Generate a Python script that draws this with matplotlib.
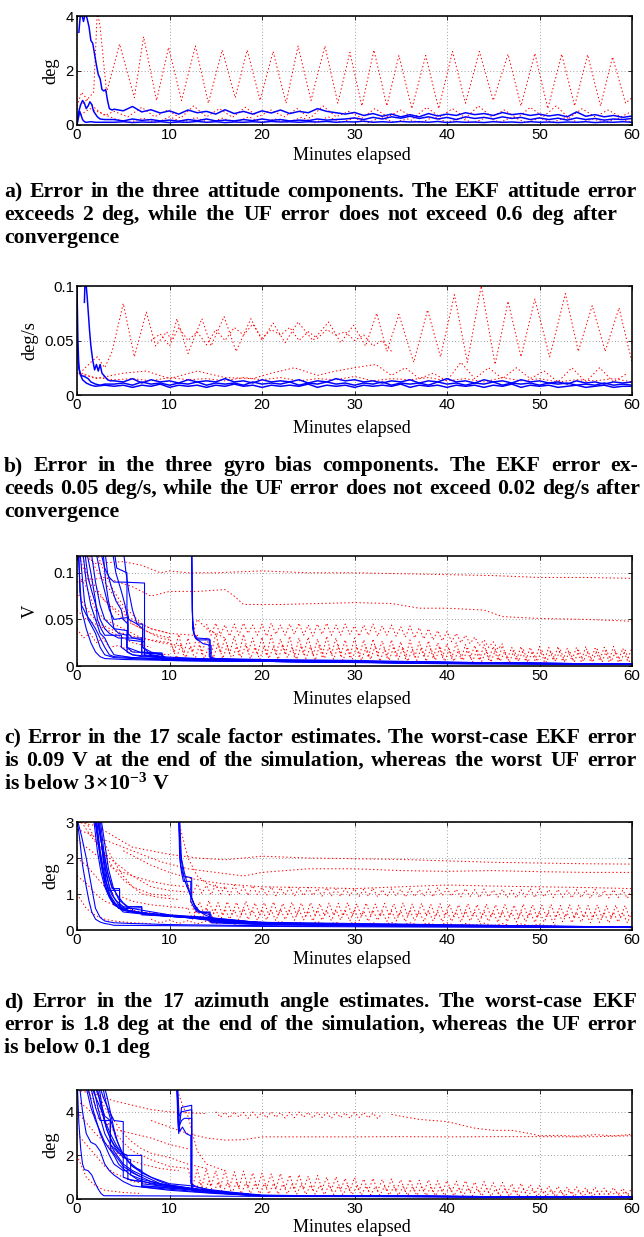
import numpy as np
import matplotlib
matplotlib.use("Agg")
import matplotlib.pyplot as plt

# ======================= DATA =======================
XTICKS = [0, 10, 20, 30, 40, 50, 60]

# ---- panel a : attitude error (deg) ----
a_blue1_early_t = [0.2,0.35,0.5,0.7,0.9,1.1,1.3,1.5,1.7,1.9,2.1,2.3,2.5,2.7,2.9,3.1,3.3,3.5,3.8]
a_blue1_early_v = [3.4,4.0,4.1,3.8,4.1,3.9,3.6,3.1,3.0,2.6,2.2,1.85,1.7,1.3,1.25,1.3,0.9,0.6,0.55]
a_blue1_late_v = [0.58,0.52,0.68,0.48,0.56,0.44,0.52,0.40,0.55,0.45,0.50,0.40,0.56,0.42,0.50,0.40,
                  0.52,0.44,0.55,0.42,0.50,0.45,0.60,0.50,0.45,0.40,0.46,0.35,0.42,0.32,0.40,0.30,
                  0.38,0.30,0.42,0.33,0.40,0.35,0.45,0.38,0.42,0.35,0.46,0.38,0.42,0.35,0.40,0.33,
                  0.38,0.30,0.48,0.32,0.38,0.30,0.35,0.28,0.33]
a_blue2_early_t = [0,0.2,0.4,0.6,0.8,1.0,1.2,1.4,1.6,1.8,2.0,2.2,2.5,3.0]
a_blue2_early_v = [0.1,0.5,0.75,0.9,0.8,0.6,0.7,0.85,0.75,0.5,0.4,0.3,0.22,0.2]
a_blue2_late_v = [0.2,0.15,0.22,0.17,0.2,0.15,0.18,0.14,0.2,0.16,0.22,0.15,0.18,0.15,0.2,0.16,
                  0.22,0.17,0.2,0.15,0.18,0.16,0.22,0.18,0.2,0.22,0.26,0.2,0.28,0.22,0.3,0.25,
                  0.32,0.24,0.3,0.22,0.28,0.2,0.3,0.24,0.28,0.22,0.3,0.24,0.28,0.2,0.26,0.2,
                  0.25,0.18,0.26,0.2,0.24,0.18,0.22,0.2,0.24]
a_blue3_early_t = [0,0.15,0.3,0.45,0.6,0.8,1.0,1.5,2.0,3.0]
a_blue3_early_v = [0.0,0.25,0.5,0.35,0.2,0.12,0.1,0.12,0.1,0.1]
a_blue3_late_v = [0.1,0.12,0.09,0.11,0.1,0.12,0.09,0.11,0.1,0.13,0.1,0.12,0.09,0.11,0.1,0.12,
                  0.1,0.13,0.11,0.12,0.1,0.12,0.11,0.13,0.1,0.12,0.11,0.14,0.1,0.12,0.1,0.13,
                  0.11,0.12,0.1,0.13,0.09,0.12,0.1,0.11,0.09,0.12,0.1,0.11,0.09,0.12,0.1,0.11,
                  0.09,0.11,0.1,0.12,0.09,0.11,0.1,0.12,0.1]
a_red1_t = [0.0,1.0,1.8,2.2,2.5,3.2,4.6,6.2,7.2,8.6,9.9,11.3,12.8,14.2,15.7,17.1,18.4,19.8,21.2,22.6,
            23.9,25.3,26.8,28.2,29.5,30.8,32.1,33.5,34.8,36.2,37.7,39.1,40.6,42.0,43.5,45.0,46.6,48.0,
            49.5,50.9,52.4,53.8,55.2,56.6,57.9,59.3,60.0]
a_red1_v = [0.6,0.9,1.2,4.2,3.6,1.2,2.97,1.0,3.24,0.9,2.85,0.9,2.9,0.8,2.75,1.0,2.75,0.9,2.7,0.8,
            2.9,0.9,2.9,0.8,2.67,0.7,2.75,0.7,2.55,0.6,2.55,0.6,2.7,0.8,2.7,0.9,2.6,0.7,
            2.63,0.6,2.6,0.7,2.58,0.7,2.5,0.8,1.0]
a_red2_t = [0,0.5,1.2,2.0,3.0,4.0,5.5,7.0,8.4,9.8,11.2,12.6,14.0,15.4,16.8,18.2,19.6,21.0,22.4,23.8,
            25.2,26.6,28.0,29.4,30.8,32.2,33.6,35.0,36.4,37.8,39.2,40.6,42.0,43.4,44.8,46.2,47.6,49.0,
            50.4,51.8,53.2,54.6,56.0,57.4,58.8,60.0]
a_red2_v = [0.7,1.2,0.9,0.6,0.35,0.5,0.3,0.65,0.3,0.55,0.25,0.7,0.3,0.6,0.28,0.65,0.3,0.55,0.3,0.6,
            0.25,0.7,0.3,0.5,0.25,0.6,0.3,0.55,0.25,0.65,0.3,0.6,0.25,0.7,0.3,0.55,0.25,0.65,
            0.3,0.7,0.25,0.6,0.3,0.55,0.3,0.5]
a_red3_v = [0.3,0.6,0.4,0.2,0.1,0.25,0.08,0.3,0.1,0.28,0.08,0.25,0.1,0.3,0.08,0.22,0.1,0.28,0.08,0.3,
            0.1,0.25,0.08,0.28,0.1,0.22,0.08,0.3,0.1,0.25,0.08,0.28,0.1,0.3,0.08,0.25,0.1,0.28,
            0.08,0.22,0.1,0.25,0.1]

# ---- panel b : gyro bias error (deg/s) ----
b_blue1_early_t = [0.8,0.85,1.0,1.1,1.2,1.35,1.5,1.7,1.9,2.1,2.3,2.5,2.7,3.0,3.3,3.6]
b_blue1_early_v = [0.085,0.1,0.1,0.09,0.078,0.06,0.045,0.032,0.023,0.028,0.022,0.028,0.02,0.017,0.014,0.013]
b_blue1_late_m = [13,12,15,11,14,12,13,11,14,12,13,12,15,12,13,11,14,12,13,12,14,11,13,12,15,13,14,12,
                  13,11,13,12,14,11,13,12,15,12,13,11,14,12,13,11,14,12,13,11,12,10,13,11,12,10,12,11,12]
b_blue2_early_t = [0,0.1,0.2,0.4,0.8,1.2,1.5,2,2.5,3]
b_blue2_early_v = [0.1,0.05,0.025,0.018,0.017,0.015,0.012,0.01,0.009,0.01]
b_blue2_late_m = [10,11,9,12,10,11,9,11,10,12,9,11,10,11,9,12,10,11,10,12,9,11,10,12,10,11,9,11,
                  10,12,9,11,10,11,9,12,10,11,9,11,10,12,9,11,10,11,9,11,10,11,9,10,9,11,9,10,9]
b_blue3_early_t = [0,0.15,0.3,0.6,1.0,1.5,2,3]
b_blue3_early_v = [0.05,0.03,0.02,0.014,0.011,0.009,0.008,0.009]
b_blue3_late_m = [8,9,7,9,8,10,7,9,8,9,7,9,8,10,8,9,7,9,8,9,8,10,7,9,8,9,7,9,
                  8,9,8,10,7,9,8,9,7,9,8,9,7,9,8,10,7,9,8,9,7,8,9,7,8,9,7,8,8]
b_red1_t = [0.3,1.5,2.2,3.0,3.8,5.0,6.2,7.5,8.5,9.7,10.2,10.8,12.0,13.5,14.5,15.9,17.2,18.8,20.0,21.2,
            22.5,23.9,25.5,27.2,28.5,29.9,31.2,32.4,33.5,34.8,36.4,37.9,39.3,40.8,42.2,43.7,45.2,46.6,
            48.0,49.5,51.1,52.8,54.2,55.7,57.1,58.6,60.0]
b_red1_v = [0.02,0.03,0.035,0.025,0.04,0.084,0.035,0.076,0.045,0.058,0.05,0.07,0.038,0.07,0.045,0.072,
            0.04,0.07,0.05,0.066,0.048,0.067,0.05,0.067,0.048,0.064,0.045,0.075,0.04,0.074,0.03,0.078,
            0.035,0.092,0.03,0.1,0.028,0.086,0.035,0.088,0.035,0.093,0.04,0.082,0.04,0.08,0.03]
b_red2_t = [8,9,10,11,12,13,14,15,16,17,18,19,20,21,22,23,24,25,26,27,28,29,30,31,32,33,34]
b_red2_v = [0.05,0.056,0.045,0.062,0.05,0.058,0.046,0.06,0.05,0.062,0.055,0.065,0.052,0.06,0.055,0.062,
            0.05,0.058,0.052,0.06,0.055,0.058,0.05,0.055,0.045,0.05,0.04]
b_red3_t = [0.5,2,5,7.5,10,13,16,19,21,23.5,26,28,30,32.3,34,35.5,37,38.5,40,41.5,43,44.5,46,47.5,
            49,50.5,52,53.5,55,56.5,58,59.5]
b_red3_v = [0.02,0.015,0.02,0.022,0.015,0.022,0.016,0.015,0.02,0.025,0.018,0.022,0.025,0.028,0.018,0.025,
            0.015,0.02,0.013,0.03,0.015,0.025,0.015,0.025,0.015,0.022,0.012,0.025,0.012,0.025,0.012,0.02]
b_red4_v = [0.02,0.016,0.014,0.015,0.013,0.016,0.014,0.015,0.013,0.016,0.014,0.016,0.013,0.015,0.014,0.017,
            0.013,0.015,0.014,0.016,0.013,0.015,0.012,0.016,0.013,0.015,0.012,0.014,0.013,0.015,0.012]

# ---- panel c : 17 scale factor errors (V, values in mV) ----
c_blue_t = [
    [0.1,0.5,1,1.5,2,2.5,3,5,10,20,30,40,60],
    [0.3,0.8,1.2,2,2.5,3,4,8,20,40,60],
    [0.6,1.0,1.5,2.0,2.5,3.0,3.5,4,6,10,30,60],
    [1.0,1.5,2.0,2.2,2.6,3,4.8,4.8,5.5,6,9,20,40,60],
    [1.5,2.0,2.5,3.0,3.5,4.0,5.4,5.4,6.5,7.0,9.2,9.2,15,30,45,60],
    [2.0,2.5,3.0,3.5,4,5.5,5.5,7.0,7.0,8,9.3,9.3,20,43,60],
    [2.5,3.0,3.5,4.0,5.0,7.3,7.3,8,9.5,9.5,20,40,60],
    [3.0,3.3,3.7,4.2,4.8,5.0,5.5,5.5,7.3,7.3,9,15,30,60],
    [3.8,4.2,4.8,5.2,5.5,5.5,6,7.0,7.0,9.3,9.3,25,60],
    [5.0,5.3,5.6,6,6.5,7.1,7.1,8,9.2,9.2,20,40,60],
    [0.2,0.3,0.5,1.0,1.5,2,2.5,3,3.5,4,8,20,40,60],
    [0.8,1.2,1.6,2.2,2.5,3,3.5,4.5,5.4,5.4,6,7,9.3,9.3,30,60],
    [2.8,3.1,3.4,3.8,4.0,4.5,5.4,5.4,6,9.2,9.2,20,43,60],
    [12.4,12.45,12.6,13,14.3,14.3,15,20,30,40,43,60],
    [12.4,12.5,12.7,13,14.4,14.4,20,40,60],
    [12.4,12.5,12.8,13.6,14.5,14.5,25,60],
    [4.0,4.3,5.4,5.4,5.6,6.5,7.1,7.1,8,9,9.2,30,60],
]
c_blue_m = [
    [125,60,40,25,15,10,8,7,6,5,4,3,2],
    [125,70,50,35,20,12,9,7,5,3,2],
    [125,90,65,50,35,30,20,12,9,7,4,2],
    [125,100,70,50,40,33,33,20,15,12,9,6,4,2],
    [125,90,65,50,45,40,38,20,16,14,13,8,7,5,3,2],
    [125,100,80,60,50,52,30,30,12,10,10,7,5,2,2],
    [125,105,95,90,90,89,15,12,10,6,5,3,2],
    [125,100,85,70,60,50,45,28,26,12,10,7,5,2],
    [125,100,80,65,50,35,30,28,15,12,7,5,2],
    [125,100,80,60,45,40,20,15,12,6,5,3,2],
    [125,80,65,55,48,40,30,20,12,10,8,6,3,2],
    [125,95,80,60,50,40,35,30,30,15,12,10,9,6,4,2],
    [125,90,70,50,40,35,33,20,15,14,7,6,3,2],
    [125,60,35,30,29,10,8,7,6,4,3,2],
    [125,50,32,28,28,8,6,4,2],
    [125,40,30,24,22,7,5,2],
    [125,105,100,60,50,45,45,20,12,10,7,4,2],
]
c_red_t = [
    [0,2,5,7,9,10,12,15,20,25,30,35,40,45,50,55,60],
    [0,3,6,8,10,13,16,17,18,22,26,30,34,37,40,44,46,50,55,60],
    [0,1,2,3,4,6,8,10],
    [0,1,2,3,5,7,9,11],
    [0,0.5,1.5,2.5,4,6,8,10],
    [0.5,1,2,3,4,5,7,9,10],
    [1,2,3,4,5,6,8,10],
    [0,1,2,3,4,5,6,8],
    [2,3,4,5,6,7,8,10,12.5,13,14,15,16],
    [0,0.7,1.4,2.1,2.8,3.5,4.5,6,8,10],
]
c_red_m = [
    [125,110,112,108,100,102,100,100,102,100,100,99,98,97,95,95,94],
    [90,95,85,75,80,80,82,75,66,66,67,68,67,62,62,60,53,51,50,48],
    [125,95,80,70,62,50,40,35],
    [100,85,60,50,40,30,25,22],
    [80,70,55,45,38,32,28,25],
    [125,100,85,70,60,50,40,30,28],
    [125,105,90,75,60,45,35,30],
    [60,50,45,40,35,30,25,20],
    [125,100,80,65,55,45,40,35,33,50,40,35,30],
    [40,30,35,25,30,20,22,15,14,12],
]
c_band1_m = [32,14,34,12,30,15,33,13,31,12,35,14,30,13,32,12,34,15,30,12,
             31,11,33,13,29,12,32,10,30,12,31,11,29,10,32,12,30,11,28,10,
             30,10,28,9,29,11,27,9,28,10,26,8,28,9,26,10,27,8,25,9,
             24,8,25,7,23,8,22,6,23,7,21,6,22,7,20,6,21,5,20,6,
             21,5,20,6,21,5,19,6,20,5,21,5,19,6,20,5,21,5,19,6,
             20]
c_band2_m = [22,8,24,9,21,7,23,8,20,9,24,8,22,7,21,9,23,8,20,7,
             22,8,21,7,23,9,20,7,22,8,21,6,23,8,20,7,22,6,19,7,
             21,6,20,7,22,5,19,6,21,7,20,5,18,6,20,5,19,6,21,5,
             18,5,17,6,19,4,18,5,17,4,18,5,16,4,17,5,18,4,16,5,
             17,4,16,5,18,4,16,4,17,5,16,4,18,4,17,5,16,4,17,4]
c_band3_m = [45,33,46,34,44,32,45,33,46,35,44,33,45,32,46,34,44,33,45,34,
             46,33,44,32,45,34,46,33,44,33,45,34,43,32,44,33,45,32,43,33,
             44,32,42,31,43,30,41,29,40,28,38,27,37,26,35,25,33,24,31,22,
             28,20,26,18,24]

# ---- panel d : 17 azimuth angle errors (deg, values in 0.01 deg) ----
d_blue_t = [
    [0,0.3,0.6,1.0,1.3,1.6,2.0,2.5,3,3.5,4,10,20,40,60],
    [0,0.5,1,1.5,2,2.5,3,4,6,10,20,40,60],
    [1.8,2.2,2.6,3,3.5,4,5,7,10,15,20,30,45,60],
    [2.0,2.3,2.7,3.0,3.5,4.6,4.6,6,10,14,20,30,60],
    [2.1,2.5,3,3.5,4,4.5,5.5,7,7,10,15,20,40,60],
    [2.2,2.6,3,3.5,4,4.5,5,6,10,14,20,35,60],
    [2.3,2.7,3.2,3.7,4.3,5,6.0,6.0,10,15,25,60],
    [2.4,2.8,3.2,3.6,4,5,7,10,15,22,60],
    [1.9,2.3,2.7,3.2,3.8,4.4,5,8,12,16,25,60],
    [2.5,2.9,3.3,3.8,4.4,5,5.5,7.0,7.0,10,14,18,40,60],
    [2.0,2.5,3,3.5,4,5,6,9,13,17,30,60],
    [2.6,3.0,3.4,3.9,4.5,5.5,7,10,14,20,60],
    [2.2,2.5,3,3.4,3.8,4.6,4.6,5.5,8,12,18,60],
    [11.0,11.1,11.3,11.5,12.3,12.3,12.7,13,14.3,14.3,16,20,30,45,60],
    [11.0,11.2,11.5,12.4,12.4,12.8,13.2,14.4,14.4,20,60],
    [11.0,11.2,11.6,12.0,12.5,13,14.0,14.5,14.5,20,60],
    [11.1,11.3,11.6,12.2,12.7,13.3,14,15,18,30,60],
]
d_blue_c = [
    [310,250,180,120,80,50,30,22,18,16,13,12,10,8,7],
    [310,260,200,130,60,35,25,20,18,15,12,10,8],
    [310,220,160,120,90,70,55,45,38,30,20,15,10,8],
    [310,250,180,140,110,110,60,50,40,35,20,14,8],
    [310,220,150,100,80,60,60,62,42,38,30,18,10,7],
    [310,250,180,120,90,70,55,50,40,33,20,12,7],
    [310,230,150,100,80,65,60,50,38,28,15,7],
    [310,200,130,90,70,55,48,40,25,16,8],
    [310,240,170,110,80,65,50,42,35,22,14,7],
    [310,220,160,120,95,75,65,65,45,40,32,20,10,7],
    [310,200,130,95,75,60,50,40,33,20,13,8],
    [310,240,170,120,85,62,55,42,35,20,8],
    [310,260,200,150,115,115,70,55,45,36,22,8],
    [310,200,160,135,135,80,60,50,48,25,20,17,13,10,8],
    [310,180,150,145,90,60,50,50,22,16,8],
    [310,210,160,120,80,55,45,42,20,15,7],
    [310,190,140,100,70,50,40,30,20,12,8],
]
d_red_t = [
    [0,2,4,6,8,10,13,16,20,25,30,35,40,45,50,55,60],
    [0,3,6,9,12,15,18,20,25,30,35,40,45,50,55,60],
    [5,8,10,12,14,16,20,25,30,35,40,45,50,55,60],
    [0,1,2,3,4,6,8,10,12],
    [0.5,1.5,2.5,3.5,4.5,6,8,10,12],
    [1,2,3,4,5,6,8,10],
    [2,3,4,5,6,7,9,11],
    [0,1,2,3,4,6,8,10,12],
    [0,1,2,3,5,7,9,11],
    [0,0.5,1,2,3,4,6,8],
    [11,11.5,12,13,14,15,16],
]
d_red_c = [
    [300,290,260,230,220,210,200,195,205,200,198,196,192,188,186,184,183],
    [280,250,220,190,170,160,150,160,170,170,165,163,165,162,160,160],
    [220,180,160,145,135,128,120,118,115,120,125,122,120,118,115],
    [250,230,210,190,170,150,135,125,120],
    [300,260,230,200,180,150,120,110,105],
    [300,250,210,170,140,120,100,95],
    [300,240,190,150,120,100,90,85],
    [200,180,150,120,100,80,70,65,60],
    [150,130,100,80,60,50,45,40],
    [100,80,60,40,30,25,20,18],
    [300,250,200,150,130,120,115],
]
d_band1_c = [125,100,128,102,124,98,126,100,122,97,125,99,120,96,123,98,
             118,96,120,95,117,97,119,94,116,95,118,96,115,94,117,95,114,93,116,95,
             115,93,113,94,116,92,112,93,114,95,113,92,115,93,112,94,114,92,118,95,
             116,94,113,92,115,93,112,90,114,92,111,91,113,90,110,89,112,91,115,90,
             114,92,112,90,113,91,110,89,112,90,111,88,113,90,110,89,112,90,111,88,
             112]
d_band2_c = [80,45,78,42,82,46,76,40,79,44,77,42,80,45,75,41,
             76,42,78,40,74,43,77,41,75,39,76,42,73,40,75,41,74,39,76,40,
             73,38,75,41,72,39,74,40,73,37,75,39,72,38,74,40,71,37,73,39,
             72,37,70,36,73,38,71,36,72,37,70,35,71,37,69,35,72,36,70,34,
             69,36,71,34,68,35,70,33,69,35,68,33,70,34,67,33,69,34,68,32]
d_band3_c = [60,30,58,28,62,32,57,27,59,30,56,28,60,29,55,27,
             57,28,55,26,58,29,54,27,56,28,53,25,55,27,54,26,56,28,53,25,
             55,26,52,24,54,27,51,24,53,25,52,23,54,26,51,24,53,25,50,23,
             52,24,50,22,53,25,49,22,51,24,50,21,52,23,48,22,50,23,49,21,
             50,22,48,20,51,23,47,20,49,22,48,20,50,21,47,20,49,22,48,20,
             50]
d_band4_c = [30,20,28,18,26,17,25,18,24,16,25,17,23,16,24,15,22,16,23,15,21,14,22,15,20,14,
             21,13,20,14,19,13,20,12,18,13,19,12,18,11,17,12,16,11,15]

# ---- panel e : (deg, values in 0.01 deg) ----
e_blue_t = [
    [0.05,0.2,0.4,0.6,0.8,1.2,1.6,2.0,2.3,2.6,2.9,10,20,40,60],
    [0.3,0.6,1.0,1.5,2.0,2.5,3.0,3.5,4.0,5.0,6.0,8.0,10,15,20,60],
    [1.2,1.8,2.5,3.0,3.5,4.0,5.0,5.5,5.5,7.0,10,12,15,20,60],
    [1.5,2.0,2.5,3.6,3.6,4.5,5.0,6.0,7.0,7.0,10,12.5,15,20,60],
    [2.0,2.5,3.0,3.6,3.6,4.5,5.5,7.0,7.0,10,14,20,60],
    [2.5,2.9,3.3,4.0,5.0,5.0,6.0,7.0,7.0,9,10,12,16,20,60],
    [1.8,2.2,2.6,3.0,3.5,4.0,4.5,5.0,6.0,7.0,9.0,11,14,20,60],
    [2.2,2.6,3.0,3.4,3.8,4.2,5.0,5.8,5.8,7,9,12,16,20,60],
    [2.8,3.1,3.4,3.8,4.2,4.8,5.4,6.0,7.0,9,10,13,17,20,60],
    [1.0,1.5,2.0,2.5,3.0,3.5,4.0,4.5,5.5,6.5,8,10,13,20,60],
    [2.4,2.8,3.2,3.6,4.0,4.6,5.4,5.4,6.5,8,10,12,15,20,60],
    [3.0,3.3,3.6,4.0,4.4,5.0,5.6,6.5,7.0,7.0,10,14,20,60],
    [1.6,2.1,2.6,3.1,3.6,4.2,5.0,6.0,8.0,10,12.5,12.5,16,20,60],
    [10.8,10.9,11.0,11.1,11.3,12.4,12.4,14,17,20,30,60],
    [10.8,11.0,11.3,12.4,12.4,15,20,60],
    [10.8,11.0,11.3,11.6,12.4,12.4,16,20,60],
    [10.9,11.1,11.4,11.8,12.3,12.3,13,15,20,60],
]
e_blue_c = [
    [510,350,230,160,135,130,110,70,45,25,15,14,12,10,8],
    [510,400,300,260,250,220,160,130,110,80,60,50,40,25,15,8],
    [510,400,300,250,200,160,130,130,90,80,60,50,30,15,8],
    [510,420,360,360,230,180,150,120,100,70,55,45,30,14,8],
    [510,450,380,360,250,210,200,200,60,50,35,15,8],
    [510,460,420,360,355,100,85,80,60,55,50,45,30,15,8],
    [510,430,360,300,260,220,190,160,130,110,70,50,35,16,8],
    [510,420,350,300,260,230,190,180,110,90,70,50,30,15,8],
    [510,450,400,340,280,220,180,150,120,80,65,45,25,16,8],
    [510,420,360,310,260,230,200,160,120,90,70,55,40,14,8],
    [510,400,320,280,250,220,200,140,110,80,60,50,30,15,8],
    [510,460,400,320,260,200,170,140,130,55,45,30,14,8],
    [510,460,410,350,300,250,200,150,100,70,60,40,25,14,8],
    [510,350,300,340,420,430,60,45,30,18,12,8],
    [510,380,400,410,50,35,16,8],
    [510,330,360,370,370,40,30,15,8],
    [510,310,330,300,290,70,55,35,16,8],
]
e_red1a_t = [0,2,4,6,8,10,12,14]
e_red1a_c = [500,480,450,430,410,400,395,392]
e_red1b_c = [400,375,398,372,400,376,397,370,399,374,398,372,400,375,396,371,398,373,399,376,
             397,372,398,374,396,370,398,373,395,371,397,374,396,372,394,370,392]
e_red1c_t = [34,35,37,40,43,45,47,49,50,52,54,56,58,60]
e_red1c_c = [388,380,365,355,325,315,315,300,290,292,288,295,290,296]
e_red_t = [
    [8,10,12,14,16,18,20,25,30,35,40,45,50,55,60],
    [0,1,2,3,4,6,8,10,12],
    [0,1,2,3,4,5,7,9,11],
    [1,2,3,4,5,6,8,10,12],
    [0,1,2,3,4,5,6,8],
    [0,0.5,1,2,3,4,5,7],
    [2,3,4,5,6,7,8,10,12,14],
    [11,11.5,12,12.5,13,14,16],
]
e_red_c = [
    [360,330,300,280,270,272,285,285,285,286,285,286,286,285,290],
    [450,420,380,350,320,300,280,250,230],
    [400,350,300,260,220,190,160,140,130],
    [510,430,370,310,260,220,180,150,140],
    [300,250,200,150,120,100,80,70],
    [200,150,100,60,40,35,30,25],
    [510,420,360,300,260,230,210,190,160,140],
    [480,420,380,300,220,160,130],
]
e_band1_c = [140,60,135,55,138,58,130,52,132,55,125,50,128,52,120,48,
             118,50,115,45,117,48,110,44,112,46,105,42,108,44,100,40,102,42,95,38,
             98,40,92,36,95,38,90,35,92,37,88,34,90,35,86,33,88,34,84,32,
             85,33,82,30,84,32,78,28,80,30,75,27,76,28,70,26,72,27,66,25,
             62,24,60,22,58,23,55,21,56,22,52,20,54,21,50,20,52,20,48,19,
             50]
e_band2_c = [85,30,80,28,82,26,78,27,76,25,78,24,74,26,72,24,
             70,23,72,22,68,24,66,22,68,21,64,22,62,20,64,21,60,19,62,20,
             58,18,60,19,57,17,58,18,55,17,57,16,54,17,55,16,53,15,54,16,
             52,15,50,14,51,15,48,14,49,13,46,14,47,13,44,12,45,13,42,12,
             40,12,41,11,38,12,39,11,37,10,38,11,36,10,37,11,35,10,36,10]

captions = {
    'a': ["a) Error in the three attitude components. The EKF attitude error",
          "exceeds 2 deg, while the UF error does not exceed 0.6 deg after",
          "convergence"],
    'b': ["b) Error in the three gyro bias components.  The EKF error ex-",
          "ceeds 0.05 deg/s, while the UF error does not exceed 0.02 deg/s after",
          "convergence"],
    'c': ["c) Error in the 17 scale factor estimates. The worst-case EKF error",
          "is 0.09 V at the end of the simulation, whereas the worst UF error",
          r"is below $\mathbf{3\!\times\!10^{-3}}$ V"],
    'd': ["d) Error in the 17 azimuth angle estimates.  The worst-case EKF",
          "error is 1.8 deg at the end of the simulation, whereas the UF error",
          "is below 0.1 deg"],
}

# ======================= FIGURE =======================
W, H, DPI = 644, 1237, 72
plt.rcParams['mathtext.fontset'] = 'custom'
plt.rcParams['mathtext.rm'] = 'Liberation Serif'
plt.rcParams['mathtext.bf'] = 'Liberation Serif:bold'
plt.rcParams['mathtext.it'] = 'Liberation Serif:italic'
fig = plt.figure(figsize=(W / DPI, H / DPI), dpi=DPI)
fig.patch.set_facecolor('white')

BLUE = '#0000ff'
RED = '#ff0000'
RED_LS = (0, (1.4, 2.4))
SERIF = 'Liberation Serif'


def make_axes(top, bottom, left=77, right=632):
    return fig.add_axes([left / W, 1 - bottom / H, (right - left) / W, (bottom - top) / H])


def style(ax, ymax, yticks, ylabels, ylabel, xlab_y):
    ax.set_xlim(0, 60)
    ax.set_ylim(0, ymax)
    ax.set_xticks(XTICKS)
    ax.set_xticklabels([str(x) for x in XTICKS])
    ax.set_yticks(yticks)
    ax.set_yticklabels(ylabels)
    ax.tick_params(direction='in', top=True, right=True, length=4, width=0.8,
                   labelsize=15, pad=3, labelfontfamily='Liberation Sans')
    ax.set_axisbelow(True)
    ax.grid(True, color='#777777', linestyle=(0, (1, 3)), linewidth=0.8)
    for s in ax.spines.values():
        s.set_linewidth(1.6)
    ax.set_ylabel(ylabel, fontfamily=SERIF, fontsize=18.5, labelpad=6)
    fig.text(352 / W, 1 - xlab_y / H, 'Minutes elapsed', ha='center', va='center',
             fontfamily=SERIF, fontsize=18)


def red(ax, t, v, scale=1.0):
    ax.plot(t, np.asarray(v, float) * scale, color=RED, lw=1.0, linestyle=RED_LS)


def blue(ax, t, v, scale=1.0, lw=1.1):
    ax.plot(t, np.asarray(v, float) * scale, color=BLUE, lw=lw)


# ---- panel a ----
ax = make_axes(16, 125)
red(ax, a_red1_t, a_red1_v)
red(ax, a_red2_t, a_red2_v)
red(ax, np.linspace(0, 60, len(a_red3_v)), a_red3_v)
for et, ev, lv in [(a_blue1_early_t, a_blue1_early_v, a_blue1_late_v),
                   (a_blue2_early_t, a_blue2_early_v, a_blue2_late_v),
                   (a_blue3_early_t, a_blue3_early_v, a_blue3_late_v)]:
    t = list(et) + list(np.linspace(4, 60, len(lv)))
    blue(ax, t, list(ev) + list(lv), lw=1.5)
style(ax, 4, [0, 2, 4], ['0', '2', '4'], 'deg', 156)

# ---- panel b ----
ax = make_axes(286, 395)
red(ax, b_red1_t, b_red1_v)
red(ax, b_red2_t, b_red2_v)
red(ax, b_red3_t, b_red3_v)
red(ax, np.linspace(0, 60, len(b_red4_v)), b_red4_v)
for et, ev, lm in [(b_blue1_early_t, b_blue1_early_v, b_blue1_late_m),
                   (b_blue2_early_t, b_blue2_early_v, b_blue2_late_m),
                   (b_blue3_early_t, b_blue3_early_v, b_blue3_late_m)]:
    t = list(et) + list(np.linspace(4, 60, len(lm)))
    blue(ax, t, list(ev) + [m / 1000 for m in lm], lw=1.5)
style(ax, 0.1, [0, 0.05, 0.1], ['0', '0.05', '0.1'], 'deg/s', 429)

# ---- panel c ----
ax = make_axes(556, 666)
for t, m in zip(c_red_t, c_red_m):
    red(ax, t, m, 1e-3)
red(ax, np.linspace(10, 60, len(c_band1_m)), c_band1_m, 1e-3)
red(ax, np.linspace(10.25, 59.75, len(c_band2_m)), c_band2_m, 1e-3)
red(ax, np.linspace(14, 46, len(c_band3_m)), c_band3_m, 1e-3)
for t, m in zip(c_blue_t, c_blue_m):
    blue(ax, t, m, 1e-3)
style(ax, 0.118, [0, 0.05, 0.1], ['0', '0.05', '0.1'], 'V', 700)

# ---- panel d ----
ax = make_axes(822, 930)
for t, c in zip(d_red_t, d_red_c):
    red(ax, t, c, 0.01)
red(ax, np.linspace(12, 60, len(d_band1_c)), d_band1_c, 0.01)
red(ax, np.linspace(12.25, 59.75, len(d_band2_c)), d_band2_c, 0.01)
red(ax, np.linspace(12, 60, len(d_band3_c)), d_band3_c, 0.01)
red(ax, np.linspace(8, 52, len(d_band4_c)), d_band4_c, 0.01)
for t, c in zip(d_blue_t, d_blue_c):
    blue(ax, t, c, 0.01)
style(ax, 3, [0, 1, 2, 3], ['0', '1', '2', '3'], 'deg', 959)

# ---- panel e ----
ax = make_axes(1090, 1199)
red(ax, e_red1a_t, e_red1a_c, 0.01)
red(ax, np.linspace(15, 33, len(e_red1b_c)), e_red1b_c, 0.01)
red(ax, e_red1c_t, e_red1c_c, 0.01)
for t, c in zip(e_red_t, e_red_c):
    red(ax, t, c, 0.01)
red(ax, np.linspace(12, 60, len(e_band1_c)), e_band1_c, 0.01)
red(ax, np.linspace(12.25, 59.75, len(e_band2_c)), e_band2_c, 0.01)
for t, c in zip(e_blue_t, e_blue_c):
    blue(ax, t, c, 0.01)
style(ax, 5, [0, 2, 4], ['0', '2', '4'], 'deg', 1228)

# ---- captions (justified like the typeset source) ----
renderer = fig.canvas.get_renderer()
CAP_SIZE = 21.8


def caption(lines, baselines, rights, x0=4):
    for text, yb, x1 in zip(lines, baselines, rights):
        y = 1 - yb / H
        kw = dict(fontsize=CAP_SIZE, fontfamily=SERIF, fontweight='bold', va='baseline', ha='left')
        if x1 is None:
            fig.text(x0 / W, y, text, **kw)
            continue
        words = text.split()
        arts = [fig.text(0, y, w, **kw) for w in words]
        widths = [a.get_window_extent(renderer).width for a in arts]
        gap = (x1 - x0 - sum(widths)) / (len(words) - 1)
        x = x0
        for a, w in zip(arts, widths):
            a.set_x(x / W)
            x += w + gap


caption(captions['a'], [197, 220, 243], [636, 617, None])
caption(captions['b'], [471, 494, 517], [638, 640, None])
caption(captions['c'], [743, 766, 790], [636, 636, None])
caption(captions['d'], [1007, 1030, 1053], [637, 637, None])

fig.savefig('out.png', dpi=DPI, facecolor='white')
